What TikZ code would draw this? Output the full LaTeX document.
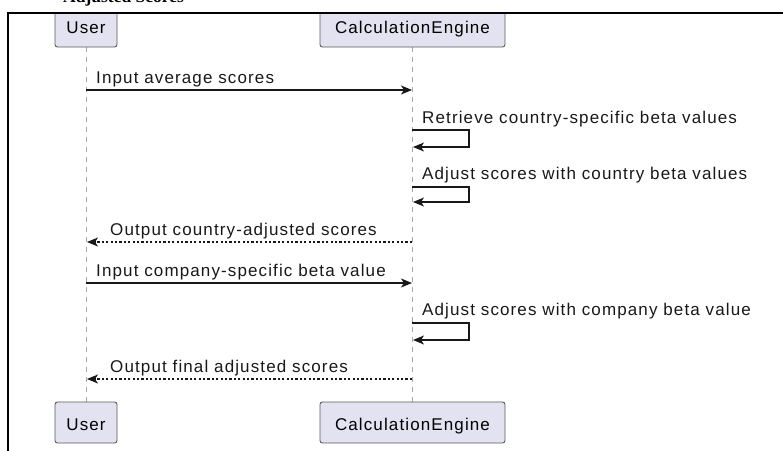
\documentclass[tikz,border=0pt]{standalone}
\usepackage{fontspec}
\setmainfont{Liberation Sans}[LetterSpace=6.6]
\newfontfamily\titlefont{Liberation Serif}
\usetikzlibrary{arrows.meta}
\definecolor{partfill}{HTML}{E2E2F0}
\definecolor{partline}{HTML}{5A5A5A}
\definecolor{msgline}{HTML}{181818}
\definecolor{lifegray}{HTML}{A8A8A8}
\tikzset{
  participant/.style={draw=partline, fill=partfill, rounded corners=2.5pt, line width=0.9pt},
  ptext/.style={anchor=base, inner sep=0pt, font=\fontsize{17}{19}\selectfont},
  msgtext/.style={anchor=base west, inner sep=0pt, font=\fontsize{17}{19}\selectfont, text=msgline},
  lifeline/.style={draw=lifegray, line width=1pt, dash pattern=on 5pt off 5pt},
  callarrow/.style={draw=msgline, line width=1.3pt, -{Stealth[length=11pt, width=9pt, inset=3pt]}},
  replyarrow/.style={callarrow, dash pattern=on 2.2pt off 2.2pt},
}
\begin{document}
\begin{tikzpicture}[x=1pt, y=-1pt]
\useasboundingbox (0,0) rectangle (783,450);

% lifelines
\coordinate (uTop) at (86,47);
\coordinate (uBot) at (86,402);
\coordinate (eTop) at (412,47);
\coordinate (eBot) at (412,402);
\draw[lifeline] (uTop) -- (uBot);
\draw[lifeline] (eTop) -- (eBot);

% participant boxes, top and bottom
\draw[participant] (55,5) rectangle (117,47);
\draw[participant] (320,5) rectangle (505,47);
\draw[participant] (55,402) rectangle (117,443);
\draw[participant] (320,402) rectangle (505,443);
\fill[white] (0,-2) rectangle (783,12.4);
\node[ptext] (userTop) at (86,33) {User};
\node[ptext] (engTop) at (412.5,33) {CalculationEngine};
\node[ptext] (userBot) at (86,430) {User};
\node[ptext] (engBot) at (412.5,430) {CalculationEngine};

% title, mostly above the page
\node[anchor=base west, inner sep=0pt, font={\titlefont\fontsize{17.5}{20}\selectfont\bfseries}] (title) at (63,2.8) {Adjusted Scores};

% frame
\draw[black, line width=1.6pt] (8,470) |- (800,13);

% message anchor points
\coordinate (u1) at (86,90);   \coordinate (e1) at (412,90);
\coordinate (s1a) at (412,130); \coordinate (s1b) at (469,130);
\coordinate (s1c) at (469,147); \coordinate (s1d) at (413,147);
\coordinate (s2a) at (412,187); \coordinate (s2b) at (469,187);
\coordinate (s2c) at (469,202); \coordinate (s2d) at (413,202);
\coordinate (e4) at (412,242); \coordinate (u4) at (87,242);
\coordinate (u5) at (86,283);  \coordinate (e5) at (412,283);
\coordinate (s3a) at (412,323); \coordinate (s3b) at (469,323);
\coordinate (s3c) at (469,340); \coordinate (s3d) at (413,340);
\coordinate (e7) at (412,379); \coordinate (u7) at (87,379);

% messages
\draw[callarrow] (u1) -- (e1);
\node[msgtext] (m1) at (96,83) {Input average scores};

\draw[callarrow] (s1a) -- (s1b) -- (s1c) -- (s1d);
\node[msgtext] (m2) at (422,123) {Retrieve country-specific beta values};

\draw[callarrow] (s2a) -- (s2b) -- (s2c) -- (s2d);
\node[msgtext] (m3) at (422,179) {Adjust scores with country beta values};

\draw[replyarrow] (e4) -- (u4);
\node[msgtext] (m4) at (110,235) {Output country-adjusted scores};

\draw[callarrow] (u5) -- (e5);
\node[msgtext] (m5) at (96,276) {Input company-specific beta value};

\draw[callarrow] (s3a) -- (s3b) -- (s3c) -- (s3d);
\node[msgtext] (m6) at (422,315) {Adjust scores with company beta value};

\draw[replyarrow] (e7) -- (u7);
\node[msgtext] (m7) at (110,372) {Output final adjusted scores};
\end{tikzpicture}
\end{document}
